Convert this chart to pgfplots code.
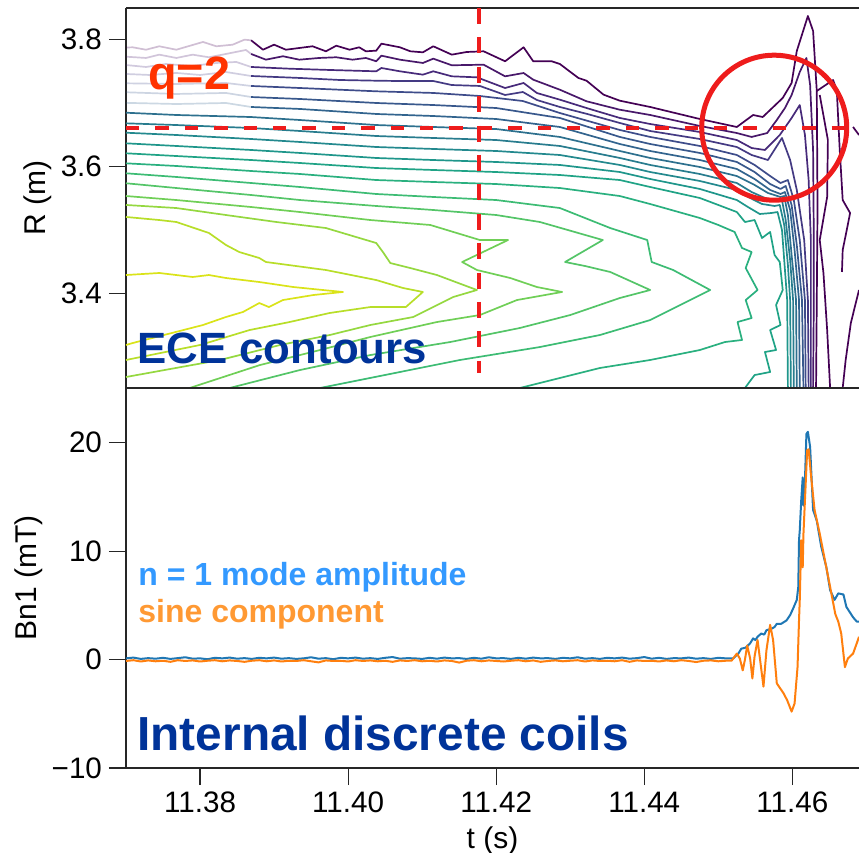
\documentclass[border=0pt]{standalone}
\usepackage{fontspec}
\setmainfont{Liberation Sans}
\usepackage{pgfplots}
\pgfplotsset{compat=1.18}

% viridis samples, outermost (k1) to innermost (k19)
\definecolor{ka}{HTML}{440154}
\definecolor{kb}{HTML}{48186A}
\definecolor{kc}{HTML}{472A7A}
\definecolor{kd}{HTML}{443A83}
\definecolor{ke}{HTML}{3E4C8A}
\definecolor{kf}{HTML}{38588C}
\definecolor{kg}{HTML}{32648E}
\definecolor{kh}{HTML}{2D708E}
\definecolor{ki}{HTML}{287C8E}
\definecolor{kj}{HTML}{23898E}
\definecolor{kk}{HTML}{1F968B}
\definecolor{kl}{HTML}{20A386}
\definecolor{km}{HTML}{2AB07F}
\definecolor{kn}{HTML}{3DBC74}
\definecolor{ko}{HTML}{54C568}
\definecolor{kp}{HTML}{70CF57}
\definecolor{kq}{HTML}{95D840}
\definecolor{kr}{HTML}{B8DE29}
\definecolor{ks}{HTML}{DAE319}
\definecolor{mpblue}{HTML}{1F77B4}
\definecolor{mporange}{HTML}{FF7F0E}
\definecolor{annred}{HTML}{EE1C1C}
\definecolor{qred}{HTML}{FF3300}
\definecolor{darkblue}{HTML}{003399}
\definecolor{lblue}{HTML}{3399FF}
\definecolor{lorange}{HTML}{FF9933}

\begin{document}
\begin{tikzpicture}
\useasboundingbox (-63pt,-42.5pt) rectangle (366.5pt,384pt);
\pgfplotsset{
  every axis/.append style={
    scale only axis, width=366.5pt, height=190pt,
    xmin=11.37, xmax=11.469, enlargelimits=false,
    axis x line*=box, axis y line*=left,
    axis line style={-, line width=0.65pt, black!85},
    tick align=outside, major tick length=8.5pt,
    tick style={line width=0.6pt, black!85},
    xtick pos=left, ytick pos=left,
    ticklabel style={font=\fontsize{14.8}{17}\selectfont},
    label style={font=\fontsize{15}{18}\selectfont},
    ylabel shift=-2.5pt,
  },
}

% ---------------- top panel: ECE contours ----------------
\begin{axis}[
  at={(0,190pt)}, anchor=south west,
  ymin=3.2509, ymax=3.8493,
  ytick={3.4,3.6,3.8}, yticklabels={3.4,3.6,3.8},
  xtick=\empty,
  ylabel={R (m)},
  every axis plot/.append style={line width=0.85pt, line join=round, no markers},
]
% faded early parts of the outer contours
\addplot[ka, opacity=0.25] coordinates {(11.3700,3.7870) (11.3709,3.7874) (11.3727,3.7836) (11.3745,3.7890) (11.3768,3.7836) (11.3804,3.7958) (11.3822,3.7890) (11.3844,3.7915) (11.3860,3.7994) (11.3869,3.7984)};
\addplot[kb, opacity=0.25] coordinates {(11.3700,3.7726) (11.3727,3.7706) (11.3745,3.7758) (11.3768,3.7706) (11.3790,3.7758) (11.3812,3.7717) (11.3835,3.7769) (11.3862,3.7832) (11.3869,3.7769)};
\addplot[kc, opacity=0.25] coordinates {(11.3700,3.7595) (11.3727,3.7564) (11.3754,3.7611) (11.3789,3.7580) (11.3822,3.7627) (11.3849,3.7643) (11.3869,3.7564)};
\addplot[kd, opacity=0.25] coordinates {(11.3700,3.7454) (11.3732,3.7438) (11.3768,3.7470) (11.3800,3.7438) (11.3835,3.7485) (11.3869,3.7422)};
\addplot[ke, opacity=0.25] coordinates {(11.3700,3.7307) (11.3768,3.7296) (11.3835,3.7312) (11.3869,3.7265)};
\addplot[kf, opacity=0.25] coordinates {(11.3700,3.7166) (11.3768,3.7139) (11.3835,3.7155) (11.3869,3.7091)};
\addplot[kg, opacity=0.25] coordinates {(11.3700,3.6999) (11.3768,3.6981) (11.3835,3.6997) (11.3869,3.6934)};

% k1
\addplot[ka] coordinates {(11.3869,3.7984) (11.3885,3.7836) (11.3900,3.7915) (11.3916,3.7836) (11.3934,3.7863) (11.3952,3.7890) (11.3970,3.7811) (11.3984,3.7899) (11.4002,3.7836) (11.4015,3.7874) (11.4024,3.7811) (11.4038,3.7821) (11.4045,3.7931) (11.4070,3.7874) (11.4084,3.7811) (11.4101,3.7795) (11.4115,3.7890) (11.4140,3.7758) (11.4160,3.7800) (11.4183,3.7811) (11.4212,3.7654) (11.4237,3.7874) (11.4250,3.7654) (11.4275,3.7654) (11.4286,3.7611) (11.4311,3.7391) (11.4322,3.7348) (11.4345,3.7128) (11.4367,3.7033) (11.4408,3.6934) (11.4475,3.6745) (11.4525,3.6619) (11.4547,3.6808) (11.4560,3.6776) (11.4587,3.7076) (11.4599,3.7312) (11.4606,3.7816) (11.4621,3.8367) (11.4628,3.8131) (11.4633,3.7186) (11.4634,3.5343) (11.4633,3.3894) (11.4632,3.2509)};
% k2
\addplot[kb] coordinates {(11.3869,3.7769) (11.3889,3.7679) (11.3912,3.7733) (11.3934,3.7679) (11.3961,3.7706) (11.3984,3.7717) (11.4006,3.7679) (11.4024,3.7706) (11.4038,3.7654) (11.4045,3.7742) (11.4070,3.7679) (11.4101,3.7627) (11.4115,3.7695) (11.4140,3.7591) (11.4183,3.7600) (11.4212,3.7417) (11.4237,3.7469) (11.4250,3.7364) (11.4286,3.7206) (11.4322,3.7024) (11.4367,3.6891) (11.4408,3.6808) (11.4475,3.6635) (11.4525,3.6524) (11.4545,3.6462) (11.4566,3.6524) (11.4579,3.6729) (11.4590,3.6918) (11.4599,3.7123) (11.4610,3.7485) (11.4619,3.7706) (11.4624,3.7280) (11.4628,3.6257) (11.4629,3.4839) (11.4629,3.3894) (11.4628,3.2509)};
% k3
\addplot[kc] coordinates {(11.3869,3.7564) (11.3921,3.7537) (11.3975,3.7517) (11.4038,3.7496) (11.4045,3.7548) (11.4070,3.7496) (11.4101,3.7443) (11.4115,3.7496) (11.4140,3.7417) (11.4174,3.7401) (11.4212,3.7233) (11.4237,3.7312) (11.4255,3.7154) (11.4286,3.7049) (11.4322,3.6918) (11.4367,3.6761) (11.4408,3.6666) (11.4475,3.6540) (11.4525,3.6414) (11.4545,3.6288) (11.4563,3.6257) (11.4583,3.6493) (11.4599,3.6761) (11.4610,3.6965) (11.4617,3.6493) (11.4622,3.5784) (11.4625,3.4839) (11.4625,3.3894) (11.4625,3.2509)};
% k4
\addplot[kd] coordinates {(11.3869,3.7422) (11.3935,3.7391) (11.3989,3.7359) (11.4038,3.7348) (11.4070,3.7343) (11.4115,3.7343) (11.4140,3.7280) (11.4178,3.7265) (11.4212,3.7123) (11.4236,3.7170) (11.4255,3.7044) (11.4286,3.6934) (11.4323,3.6824) (11.4367,3.6682) (11.4408,3.6556) (11.4475,3.6430) (11.4525,3.6304) (11.4545,3.6178) (11.4567,3.6099) (11.4586,3.6446) (11.4597,3.6099) (11.4606,3.5627) (11.4616,3.4839) (11.4621,3.3894) (11.4622,3.2509)};
% k5
\addplot[ke] coordinates {(11.3869,3.7265) (11.3935,3.7233) (11.4038,3.7181) (11.4115,3.7155) (11.4178,3.7107) (11.4236,3.7028) (11.4286,3.6839) (11.4367,3.6572) (11.4408,3.6462) (11.4475,3.6320) (11.4525,3.6178) (11.4549,3.6021) (11.4570,3.5847) (11.4584,3.5737) (11.4594,3.5784) (11.4602,3.5469) (11.4610,3.4839) (11.4617,3.3894) (11.4618,3.2509)};
% k6
\addplot[kf] coordinates {(11.3869,3.7091) (11.3935,3.7060) (11.4038,3.6997) (11.4115,3.6965) (11.4200,3.6918) (11.4286,3.6761) (11.4367,3.6462) (11.4408,3.6351) (11.4475,3.6210) (11.4525,3.6068) (11.4549,3.5910) (11.4570,3.5721) (11.4584,3.5643) (11.4591,3.5690) (11.4599,3.5391) (11.4606,3.4761) (11.4613,3.3894) (11.4615,3.2509)};
% k7
\addplot[kg] coordinates {(11.3869,3.6934) (11.3935,3.6903) (11.4038,3.6824) (11.4115,3.6792) (11.4200,3.6745) (11.4286,3.6619) (11.4367,3.6351) (11.4408,3.6241) (11.4475,3.6099) (11.4525,3.5958) (11.4549,3.5800) (11.4570,3.5627) (11.4584,3.5564) (11.4590,3.5595) (11.4597,3.5312) (11.4603,3.4682) (11.4609,3.3894) (11.4610,3.2509)};
% k8
\addplot[kh] coordinates {(11.3700,3.6844) (11.3768,3.6808) (11.3869,3.6776) (11.3935,3.6729) (11.4038,3.6650) (11.4115,3.6619) (11.4200,3.6587) (11.4286,3.6462) (11.4367,3.6241) (11.4408,3.6131) (11.4475,3.5989) (11.4525,3.5847) (11.4549,3.5706) (11.4567,3.5580) (11.4584,3.5517) (11.4589,3.5532) (11.4594,3.5233) (11.4599,3.4603) (11.4605,3.3894) (11.4606,3.2509)};
% k9
\addplot[ki] coordinates {(11.3700,3.6677) (11.3768,3.6650) (11.3869,3.6603) (11.3935,3.6556) (11.4038,3.6477) (11.4115,3.6446) (11.4200,3.6414) (11.4286,3.6320) (11.4367,3.6131) (11.4408,3.6021) (11.4475,3.5879) (11.4525,3.5737) (11.4545,3.5595) (11.4563,3.5501) (11.4580,3.5454) (11.4586,3.5469) (11.4591,3.5154) (11.4597,3.4524) (11.4601,3.3894) (11.4602,3.2509)};
% k10
\addplot[kj] coordinates {(11.3700,3.6529) (11.3768,3.6493) (11.3869,3.6430) (11.3935,3.6383) (11.4038,3.6304) (11.4115,3.6273) (11.4200,3.6241) (11.4286,3.6178) (11.4367,3.6021) (11.4408,3.5910) (11.4475,3.5769) (11.4525,3.5627) (11.4543,3.5501) (11.4559,3.5407) (11.4576,3.5375) (11.4583,3.5391) (11.4589,3.5076) (11.4594,3.4446) (11.4597,3.3894) (11.4598,3.2509)};
% k11
\addplot[kk] coordinates {(11.3700,3.6362) (11.3768,3.6320) (11.3869,3.6257) (11.3935,3.6210) (11.4038,3.6131) (11.4115,3.6099) (11.4200,3.6068) (11.4286,3.6021) (11.4367,3.5910) (11.4408,3.5800) (11.4475,3.5643) (11.4525,3.5469) (11.4540,3.5359) (11.4556,3.5249) (11.4572,3.5265) (11.4580,3.5280) (11.4586,3.4997) (11.4590,3.4367) (11.4593,3.3894) (11.4594,3.2509)};
% k12
\addplot[kl] coordinates {(11.3700,3.6205) (11.3768,3.6162) (11.3869,3.6099) (11.3935,3.6052) (11.4038,3.5973) (11.4115,3.5942) (11.4200,3.5910) (11.4286,3.5863) (11.4367,3.5784) (11.4408,3.5674) (11.4475,3.5501) (11.4500,3.5391) (11.4525,3.5280) (11.4536,3.5123) (11.4549,3.5154) (11.4559,3.4871) (11.4570,3.4966) (11.4576,3.4603) (11.4583,3.4493) (11.4587,3.4052) (11.4578,3.3816) (11.4584,3.3501) (11.4570,3.3422) (11.4578,3.3107) (11.4563,3.3076) (11.4570,3.2761) (11.4549,3.2713) (11.4536,3.2509)};
% k13
\addplot[km] coordinates {(11.3700,3.6047) (11.3768,3.6005) (11.3869,3.5926) (11.3935,3.5879) (11.4038,3.5784) (11.4115,3.5753) (11.4200,3.5721) (11.4286,3.5658) (11.4367,3.5532) (11.4408,3.5406) (11.4475,3.5186) (11.4500,3.5076) (11.4522,3.4966) (11.4532,3.4714) (11.4545,3.4650) (11.4537,3.4398) (11.4553,3.4052) (11.4537,3.3894) (11.4545,3.3611) (11.4526,3.3548) (11.4532,3.3265) (11.4509,3.3233) (11.4475,3.3107) (11.4408,3.2950) (11.4340,3.2824) (11.4286,3.2666) (11.4232,3.2509)};
% k14
\addplot[kn] coordinates {(11.3700,3.5890) (11.3768,3.5832) (11.3869,3.5737) (11.3935,3.5674) (11.4038,3.5564) (11.4115,3.5517) (11.4200,3.5469) (11.4286,3.5343) (11.4354,3.5028) (11.4404,3.4839) (11.4410,3.4493) (11.4439,3.4367) (11.4489,3.4052) (11.4462,3.3894) (11.4408,3.3579) (11.4340,3.3343) (11.4259,3.3154) (11.4151,3.2950) (11.4043,3.2698) (11.3962,3.2509)};
% k15
\addplot[ko] coordinates {(11.3700,3.5733) (11.3768,3.5658) (11.3869,3.5548) (11.3935,3.5469) (11.4038,3.5375) (11.4115,3.5312) (11.4200,3.5233) (11.4259,3.5123) (11.4306,3.4966) (11.4344,3.4839) (11.4293,3.4493) (11.4320,3.4430) (11.4354,3.4336) (11.4408,3.4052) (11.4367,3.3926) (11.4300,3.3658) (11.4232,3.3454) (11.4138,3.3233) (11.4030,3.3028) (11.3935,3.2792) (11.3840,3.2509)};
% k16
\addplot[kp] coordinates {(11.3700,3.5532) (11.3768,3.5469) (11.3869,3.5359) (11.3935,3.5280) (11.4030,3.5154) (11.4111,3.5076) (11.4178,3.4839) (11.4216,3.4839) (11.4154,3.4493) (11.4174,3.4367) (11.4219,3.4241) (11.4255,3.4099) (11.4289,3.4021) (11.4228,3.3894) (11.4178,3.3658) (11.4120,3.3548) (11.4030,3.3312) (11.3962,3.3107) (11.3881,3.2871) (11.3786,3.2509)};
% k17
\addplot[kq] coordinates {(11.3700,3.5391) (11.3768,3.5343) (11.3835,3.5233) (11.3903,3.5123) (11.3970,3.5028) (11.4038,3.4792) (11.4047,3.4650) (11.4057,3.4477) (11.4084,3.4398) (11.4120,3.4288) (11.4174,3.4052) (11.4142,3.3942) (11.4088,3.3627) (11.4030,3.3501) (11.3975,3.3343) (11.3908,3.3186) (11.3827,3.2950) (11.3700,3.2682)};
% k18
\addplot[kr] coordinates {(11.3700,3.5202) (11.3745,3.5154) (11.3768,3.5123) (11.3812,3.4950) (11.3835,3.4761) (11.3853,3.4650) (11.3880,3.4556) (11.3889,3.4493) (11.3970,3.4367) (11.4038,3.4209) (11.4074,3.4084) (11.4101,3.4021) (11.4078,3.3784) (11.4030,3.3784) (11.3975,3.3690) (11.3921,3.3548) (11.3867,3.3422) (11.3800,3.3186) (11.3700,3.2950)};
% k19
\addplot[ks] coordinates {(11.3700,3.4288) (11.3745,3.4320) (11.3790,3.4257) (11.3812,3.4288) (11.3835,3.4241) (11.3880,3.4178) (11.3926,3.4099) (11.3966,3.4052) (11.3993,3.4021) (11.3953,3.3973) (11.3912,3.3894) (11.3893,3.3784) (11.3880,3.3847) (11.3858,3.3706) (11.3835,3.3627) (11.3804,3.3501) (11.3709,3.3217) (11.3700,3.3186)};
% outer purple contours on the right
\addplot[ka] coordinates {(11.4633,3.7186) (11.4655,3.7359) (11.4660,3.7202) (11.4664,3.6257) (11.4668,3.5469) (11.4678,3.5265) (11.4674,3.5028) (11.4668,3.4682) (11.4667,3.4336)};
\addplot[ka] coordinates {(11.4637,3.7123) (11.4648,3.6414) (11.4647,3.5517) (11.4637,3.4839) (11.4642,3.4320) (11.4647,3.3422) (11.4651,3.2509)};
\addplot[ka] coordinates {(11.4690,3.4052) (11.4679,3.3533) (11.4672,3.2950) (11.4668,3.2509)};
\addplot[ka] coordinates {(11.4682,3.6619) (11.4690,3.6493)};

% q=2 markers
\addplot[annred, line width=2.2pt, dash pattern=on 6.7pt off 8pt] coordinates {(11.3700,3.6607) (11.4690,3.6607)};
\addplot[annred, line width=2.2pt, dash pattern=on 8pt off 6.7pt] coordinates {(11.4177,3.8493) (11.4177,3.2745)};
\draw[annred, line width=2.5pt] (axis cs:11.45755,3.6608) circle[radius=36.25pt];

\node[anchor=base west, inner sep=0pt, text=qred, font=\bfseries\fontsize{23.4}{28}\selectfont] at (axis cs:11.37297,3.7202) {q=2};
\node[anchor=base west, inner sep=0pt, text=darkblue, font=\bfseries\fontsize{21.9}{26}\selectfont] at (axis cs:11.37149,3.2902) {ECE contours};
\end{axis}

% ---------------- bottom panel: Bn1 ----------------
\begin{axis}[
  at={(0,0)}, anchor=south west,
  ymin=-10, ymax=25.04,
  ytick={-10,0,10,20}, yticklabels={−10,0,10,20},
  xtick={11.38,11.40,11.42,11.44,11.46},
  xticklabels={11.38,11.40,11.42,11.44,11.46},
  xlabel={t (s)}, ylabel={Bn1 (mT)},
  every axis plot/.append style={line width=1pt, line join=round, no markers},
]
\addplot[mpblue] coordinates {
(11.370,0.11) (11.371,0.18) (11.372,0.06) (11.373,0.13) (11.374,0.08) (11.375,0.16) (11.376,0.06) (11.377,0.13) (11.378,0.21) (11.379,0.08)
(11.380,0.11) (11.381,0.03) (11.382,0.16) (11.383,0.11) (11.384,0.18) (11.385,0.08) (11.386,0.13) (11.387,0.06) (11.388,0.16) (11.389,0.11)
(11.390,0.18) (11.391,0.08) (11.392,0.13) (11.393,0.06) (11.394,0.11) (11.395,0.21) (11.396,0.08) (11.397,0.13) (11.398,0.03) (11.399,0.16)
(11.400,0.11) (11.401,0.18) (11.402,0.08) (11.403,0.13) (11.404,0.06) (11.405,0.16) (11.406,0.23) (11.407,0.08) (11.408,0.13) (11.409,0.11)
(11.410,0.06) (11.411,0.16) (11.412,0.08) (11.413,0.18) (11.414,0.11) (11.415,0.13) (11.416,0.06) (11.417,0.16) (11.418,0.08) (11.419,0.21)
(11.420,0.11) (11.421,0.13) (11.422,0.06) (11.423,0.16) (11.424,0.08) (11.425,0.18) (11.426,0.11) (11.427,0.13) (11.428,0.06) (11.429,0.16)
(11.430,0.11) (11.431,0.21) (11.432,0.08) (11.433,0.13) (11.434,0.06) (11.435,0.16) (11.436,0.11) (11.437,0.18) (11.438,0.08) (11.439,0.13)
(11.440,0.23) (11.441,0.08) (11.442,0.16) (11.443,0.06) (11.444,0.13) (11.445,0.11) (11.446,0.18) (11.447,0.08) (11.448,0.13) (11.449,0.06)
(11.450,0.16) (11.451,0.11) (11.4520,0.10) (11.4527,0.55) (11.4531,1.00) (11.4537,1.10) (11.4543,1.50) (11.4547,1.95) (11.4550,1.80) (11.4553,2.10)
(11.4558,2.40) (11.4562,2.30) (11.4565,2.70) (11.4572,2.85) (11.4576,3.00) (11.4579,3.30) (11.4585,3.30) (11.4592,3.60) (11.4597,4.10) (11.4601,4.70)
(11.4606,5.50) (11.4608,6.70) (11.4609,11.0) (11.4610,11.9) (11.4612,14.7) (11.4614,16.8) (11.4615,14.2) (11.4617,16.5) (11.4619,20.8) (11.4621,21.0)
(11.4624,19.6) (11.4628,13.8) (11.4633,12.8) (11.4639,10.4) (11.4646,8.5) (11.4651,6.4) (11.4657,5.5) (11.4662,6.1) (11.4669,6.0) (11.4673,4.85)
(11.4682,3.9) (11.4687,3.5) (11.4690,3.5)};
\addplot[mporange] coordinates {
(11.370,-0.13) (11.371,-0.06) (11.372,-0.18) (11.373,-0.08) (11.374,-0.16) (11.375,-0.11) (11.376,-0.21) (11.377,-0.06) (11.378,-0.13) (11.379,-0.08)
(11.380,-0.18) (11.381,-0.11) (11.382,-0.06) (11.383,-0.16) (11.384,-0.08) (11.385,-0.13) (11.386,-0.21) (11.387,-0.11) (11.388,-0.06) (11.389,-0.16)
(11.390,-0.08) (11.391,-0.18) (11.392,-0.11) (11.393,-0.13) (11.394,-0.06) (11.395,-0.16) (11.396,-0.26) (11.397,-0.08) (11.398,-0.13) (11.399,-0.11)
(11.400,-0.18) (11.401,-0.06) (11.402,-0.13) (11.403,-0.08) (11.404,-0.16) (11.405,-0.11) (11.406,-0.21) (11.407,-0.08) (11.408,-0.13) (11.409,-0.06)
(11.410,-0.16) (11.411,-0.11) (11.412,-0.18) (11.413,-0.08) (11.414,-0.13) (11.415,-0.28) (11.416,-0.11) (11.417,-0.06) (11.418,-0.16) (11.419,-0.08)
(11.420,-0.13) (11.421,-0.18) (11.422,-0.11) (11.423,-0.06) (11.424,-0.16) (11.425,-0.08) (11.426,-0.21) (11.427,-0.13) (11.428,-0.08) (11.429,-0.16)
(11.430,-0.11) (11.431,-0.06) (11.432,-0.18) (11.433,-0.08) (11.434,-0.13) (11.435,-0.11) (11.436,-0.16) (11.437,-0.06) (11.438,-0.21) (11.439,-0.08)
(11.440,-0.13) (11.441,-0.11) (11.442,-0.18) (11.443,-0.08) (11.444,-0.16) (11.445,-0.06) (11.446,-0.13) (11.447,-0.23) (11.448,-0.11) (11.449,-0.08)
(11.450,-0.16) (11.451,-0.11) (11.4518,-0.10) (11.4525,0.55) (11.4529,0.10) (11.4533,-1.00) (11.4536,0.00) (11.4539,1.30) (11.4543,0.10) (11.4546,-1.75)
(11.4549,0.30) (11.4553,1.80) (11.4556,0.20) (11.4561,-2.50) (11.4565,0.85) (11.4570,3.20) (11.4574,1.80) (11.4579,-2.20) (11.4588,-3.10) (11.4593,-3.75)
(11.4599,-4.80) (11.4603,-4.05) (11.4607,-0.70) (11.4609,3.60) (11.4610,5.50) (11.4612,11.0) (11.4614,8.50) (11.4615,11.6) (11.4618,16.2) (11.4620,19.3)
(11.4622,19.4) (11.4625,17.1) (11.4630,13.8) (11.4637,11.6) (11.4644,9.15) (11.4651,6.70) (11.4658,4.20) (11.4662,3.50) (11.4666,2.40) (11.4671,-0.70)
(11.4675,0.10) (11.4682,0.55) (11.4687,1.50) (11.4690,2.10)};

\node[anchor=base west, inner sep=0pt, text=lblue, font=\bfseries\fontsize{16}{19}\selectfont] at (axis cs:11.37162,6.85) {n = 1 mode amplitude};
\node[anchor=base west, inner sep=0pt, text=lorange, font=\bfseries\fontsize{16}{19}\selectfont] at (axis cs:11.37162,3.44) {sine component};
\node[anchor=base west, inner sep=0pt, text=darkblue, font=\bfseries\fontsize{23.9}{28}\selectfont] at (axis cs:11.37149,-8.36) {Internal discrete coils};
\end{axis}
\end{tikzpicture}
\end{document}
